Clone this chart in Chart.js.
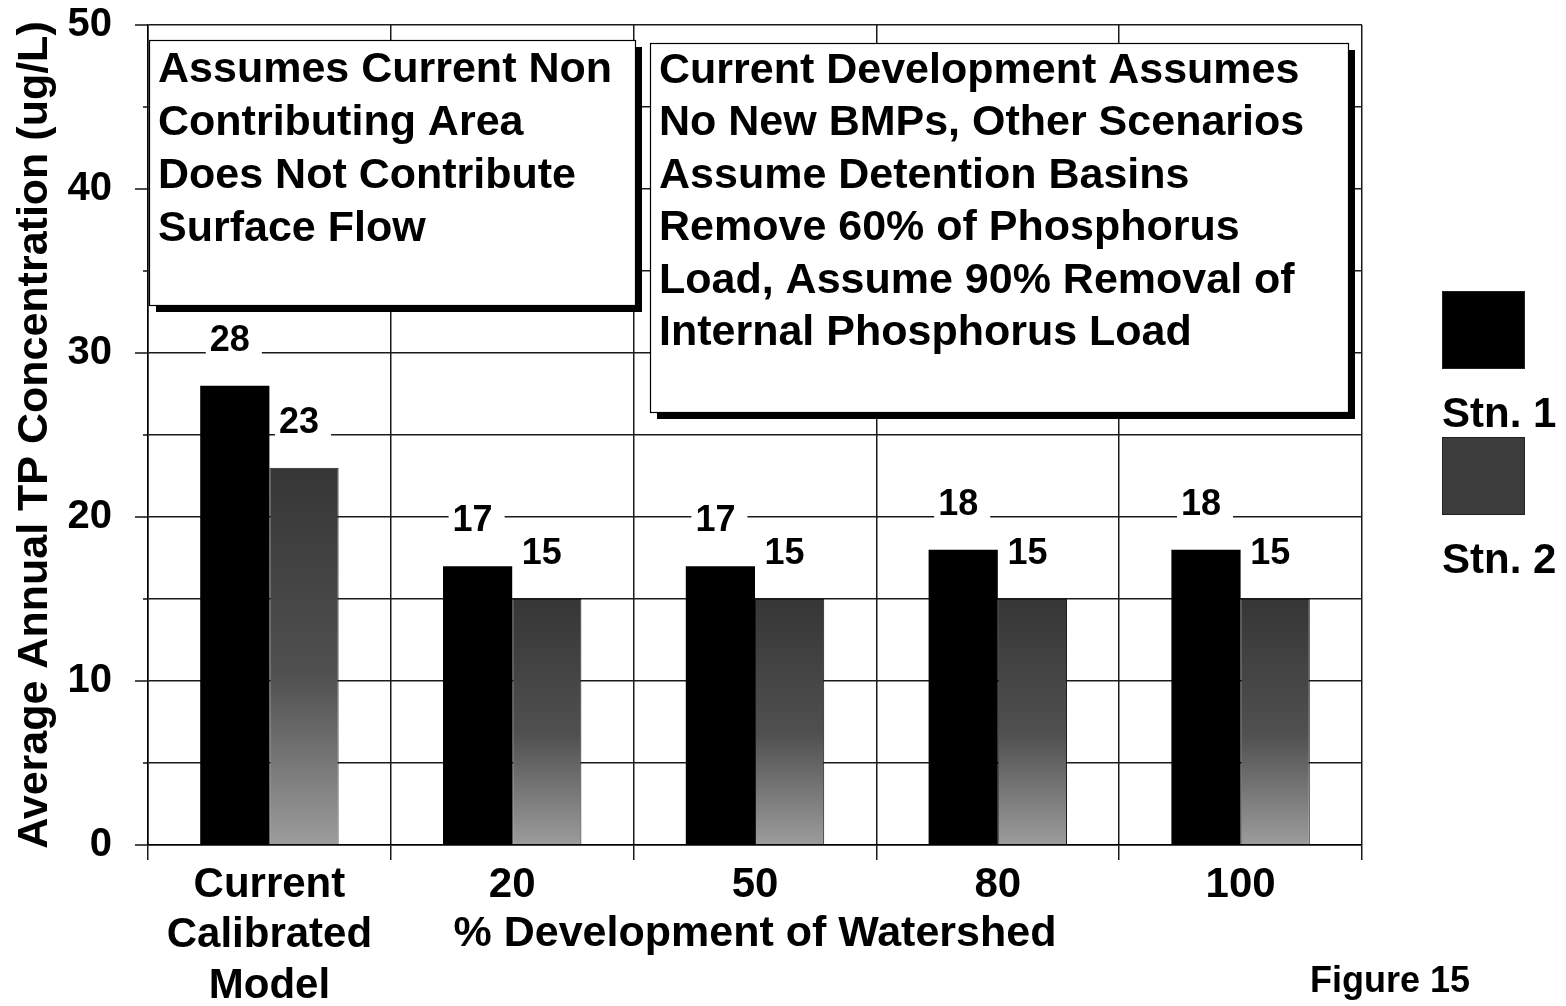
<!DOCTYPE html>
<html>
<head>
<meta charset="utf-8">
<title>Figure 15</title>
<script src="https://cdn.jsdelivr.net/npm/chart.js"></script>
<style>
  html, body { margin: 0; padding: 0; background: #fff; }
  canvas { display: block; }
</style>
</head>
<body>
<canvas id="chart" width="1566" height="1006"></canvas>
<script>
const categories = [['Current', 'Calibrated', 'Model'], '20', '50', '80', '100'];
const stn1Values = [28, 17, 17, 18, 18];
const stn2Values = [23, 15, 15, 15, 15];
const seriesNames = ['Stn. 1', 'Stn. 2'];
const yMin = 0;
const yMax = 50;
const yStep = 5; // gridline every 5, label every 10
const yTitle = 'Average Annual TP Concentration (ug/L)';
const xTitle = '% Development of Watershed';
const noteLeft = ['Assumes Current Non', 'Contributing Area', 'Does Not Contribute', 'Surface Flow'];
const noteRight = [
    'Current Development Assumes',
    'No New BMPs, Other Scenarios',
    'Assume Detention Basins',
    'Remove 60% of Phosphorus',
    'Load, Assume 90% Removal of',
    'Internal Phosphorus Load'
];
const figureLabel = 'Figure 15';

const FONT = "'Liberation Sans', Arial, sans-serif";

// gray station bars get darker toward the top, like the scanned shading
function grayFill(context) {
    const chart = context.chart;
    const yScale = chart.scales.y;
    if (!yScale || typeof context.raw !== 'number') return '#555555';
    const top = yScale.getPixelForValue(context.raw);
    const base = yScale.getPixelForValue(0);
    if (!Number.isFinite(top) || !Number.isFinite(base) || top === base) return '#555555';
    const g = chart.ctx.createLinearGradient(0, top, 0, base);
    g.addColorStop(0, '#363636');
    g.addColorStop(0.55, '#505050');
    g.addColorStop(1, '#9c9c9c');
    return g;
}

// y tick marks: long at labelled values, short in between
const yTickMarks = {
    id: 'yTickMarks',
    afterDraw(chart) {
        const ctx = chart.ctx;
        const y = chart.scales.y;
        const left = chart.chartArea.left;
        ctx.save();
        ctx.strokeStyle = '#111';
        ctx.lineWidth = 1.5;
        y.ticks.forEach(t => {
            const py = y.getPixelForValue(t.value);
            const len = t.value % 10 === 0 ? 13 : 5;
            ctx.beginPath();
            ctx.moveTo(left - len, py);
            ctx.lineTo(left, py);
            ctx.stroke();
        });
        ctx.restore();
    }
};

// value labels sit on white patches that hide the gridlines
const valueLabels = {
    id: 'valueLabels',
    beforeDatasetsDraw(chart) {
        const ctx = chart.ctx;
        ctx.save();
        ctx.font = `bold 36px ${FONT}`;
        ctx.fillStyle = '#fff';
        chart.data.datasets.forEach((ds, i) => {
            chart.getDatasetMeta(i).data.forEach((bar, j) => {
                const w = ctx.measureText(String(ds.data[j])).width;
                const cx = bar.x - 5;
                const base = bar.y - 35;
                ctx.fillRect(cx - w / 2 - 4, base - 32, w + 16, 38);
            });
        });
        ctx.restore();
    },
    afterDatasetsDraw(chart) {
        const ctx = chart.ctx;
        ctx.save();
        ctx.font = `bold 36px ${FONT}`;
        ctx.fillStyle = '#000';
        ctx.textAlign = 'center';
        ctx.textBaseline = 'alphabetic';
        chart.data.datasets.forEach((ds, i) => {
            chart.getDatasetMeta(i).data.forEach((bar, j) => {
                ctx.fillText(String(ds.data[j]), bar.x - 5, bar.y - 35);
            });
        });
        ctx.restore();
    }
};

function drawNote(ctx, lines, left, top, right, bottom, firstBase, spacing) {
    ctx.fillStyle = '#000';
    ctx.fillRect(left + 7, top + 7, right - left, bottom - top);
    ctx.fillStyle = '#fff';
    ctx.fillRect(left, top, right - left, bottom - top);
    ctx.strokeStyle = '#000';
    ctx.lineWidth = 1.2;
    ctx.strokeRect(left + 0.5, top + 0.5, right - left, bottom - top);
    ctx.fillStyle = '#000';
    ctx.font = `bold 43px ${FONT}`;
    ctx.textAlign = 'left';
    ctx.textBaseline = 'alphabetic';
    lines.forEach((line, i) => {
        ctx.fillText(line, left + 9, top + firstBase + i * spacing);
    });
}

const annotations = {
    id: 'annotations',
    afterDraw(chart) {
        const ctx = chart.ctx;
        const area = chart.chartArea;
        ctx.save();
        drawNote(ctx, noteLeft, area.left + 1, 40, 635, 305, 42, 53);
        drawNote(ctx, noteRight, 650, 43, 1348, 412, 40, 52.4);

        // legend: swatch above its label
        const lx = area.right + 80;
        const swatchW = 82;
        const swatchH = 77;
        const fills = ['#000', '#3c3c3c'];
        seriesNames.forEach((name, i) => {
            const top = 291 + i * 146;
            ctx.fillStyle = fills[i];
            ctx.fillRect(lx, top, swatchW, swatchH);
            ctx.strokeStyle = '#222';
            ctx.lineWidth = 1;
            ctx.strokeRect(lx + 0.5, top + 0.5, swatchW, swatchH);
            ctx.fillStyle = '#000';
            ctx.font = `bold 42px ${FONT}`;
            ctx.textAlign = 'left';
            ctx.textBaseline = 'alphabetic';
            ctx.fillText(name, lx, top + swatchH + 59);
        });

        ctx.font = `bold 36px ${FONT}`;
        ctx.fillText(figureLabel, 1310, 992);
        ctx.restore();
    }
};

new Chart(document.getElementById('chart'), {
    type: 'bar',
    data: {
        labels: categories,
        datasets: [
            { label: seriesNames[0], data: stn1Values, backgroundColor: '#000', borderWidth: 0 },
            { label: seriesNames[1], data: stn2Values, backgroundColor: grayFill, borderColor: '#1c1c1c', borderWidth: 1 }
        ]
    },
    options: {
        responsive: false,
        animation: false,
        devicePixelRatio: 1,
        layout: { padding: { top: 25, right: 204, left: 0, bottom: 0 } },
        datasets: { bar: { categoryPercentage: 0.57, barPercentage: 1.0 } },
        plugins: {
            legend: { display: false },
            tooltip: { enabled: false }
        },
        scales: {
            x: {
                grid: { offset: true, color: '#1a1a1a', lineWidth: 1.5, tickLength: 15, drawTicks: true },
                border: { color: '#000', width: 1.5 },
                ticks: {
                    color: '#000',
                    font: { family: FONT, size: 42, weight: 'bold' },
                    padding: 0,
                    maxRotation: 0,
                    autoSkip: false
                },
                title: {
                    display: true,
                    text: xTitle,
                    color: '#000',
                    font: { family: FONT, size: 43, weight: 'bold' },
                    padding: { top: 0, bottom: 46 }
                },
                afterFit(scale) {
                    scale.height = 161;
                    scale.paddingLeft = 0;
                    scale.paddingRight = 0;
                }
            },
            y: {
                min: yMin,
                max: yMax,
                ticks: {
                    stepSize: yStep,
                    callback: v => (v % 10 === 0 ? v : ''),
                    padding: 36,
                    color: '#000',
                    font: { family: FONT, size: 40, weight: 'bold' }
                },
                grid: { color: '#1a1a1a', lineWidth: 1.5, drawTicks: false },
                border: { color: '#000', width: 1.5 },
                title: {
                    display: true,
                    text: yTitle,
                    color: '#000',
                    font: { family: FONT, size: 43, weight: 'bold' },
                    padding: { top: 9, bottom: 0 }
                },
                afterFit(scale) {
                    scale.width = 148;
                    scale.paddingTop = 0;
                    scale.paddingBottom = 0;
                }
            }
        }
    },
    plugins: [valueLabels, yTickMarks, annotations]
});
</script>
</body>
</html>
